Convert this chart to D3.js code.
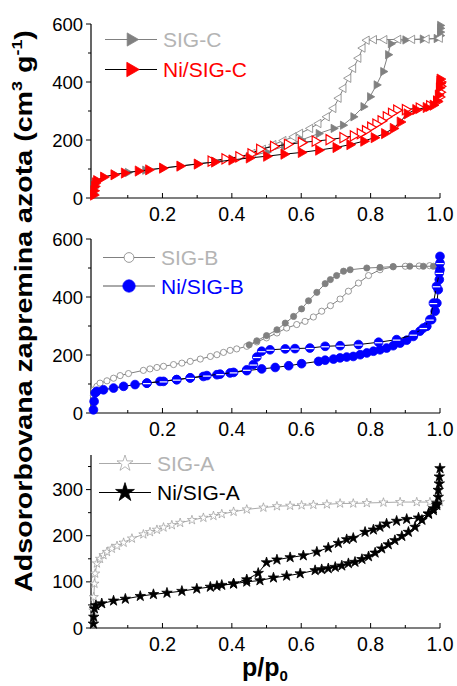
<!DOCTYPE html>
<html><head><meta charset="utf-8">
<script src="https://cdn.jsdelivr.net/npm/d3@7"></script>
<style>body{margin:0;background:#fff}svg{display:block}text{font-family:Arial,"Liberation Sans",sans-serif}</style>
</head><body>
<svg id="c" width="457" height="686"></svg>
<script>
// ---------- DATA ----------
const xTickLabels = [0.2, 0.4, 0.6, 0.8, 1.0];
const xMinorTicks = [0.1, 0.3, 0.5, 0.7, 0.9];
const yTicksCB = [0, 200, 400, 600];
const yMinorCB = [100, 300, 500];
const yTicksA = [0, 100, 200, 300];
const yMinorA = [50, 150, 250, 350];

// SIG-C (gray triangles)
const sigC_ads = [[0.001,15],[0.003,35],[0.005,48],[0.01,60],[0.03,72],[0.06,81],[0.1,88],[0.15,96],[0.2,103],[0.25,110],[0.3,118],[0.35,126],[0.4,134],[0.45,143],[0.5,158],[0.55,178],[0.6,200],[0.65,222],[0.693,240],[0.72,251],[0.75,280],[0.779,315],[0.798,349],[0.817,390],[0.836,436],[0.85,494],[0.858,532],[0.9,545],[0.95,548],[0.99,550],[1.0,560],[1.0,572],[1.0,585],[1.0,595]];
const sigC_des = [[1.0,551],[0.962,548],[0.92,547],[0.88,547],[0.84,546],[0.81,546],[0.789,544],[0.777,517],[0.765,482],[0.75,447],[0.736,413],[0.722,378],[0.708,344],[0.693,309],[0.674,280],[0.65,257],[0.626,240],[0.597,223],[0.578,211],[0.549,198],[0.52,184],[0.49,168],[0.46,154]];
// Ni/SIG-C (red triangles)
const niC_ads = [[0.001,10],[0.002,25],[0.004,40],[0.006,52],[0.01,60],[0.03,72],[0.06,80],[0.09,86],[0.13,93],[0.16,97],[0.2,103],[0.25,110],[0.3,117],[0.35,124],[0.4,131],[0.45,138],[0.5,144],[0.55,151],[0.6,157],[0.65,165],[0.7,174],[0.74,184],[0.78,196],[0.81,208],[0.84,222],[0.865,240],[0.885,262],[0.905,290],[0.93,305],[0.96,312],[0.98,320],[0.99,335],[0.995,355],[0.998,380],[1.0,395],[1.0,410]];
const niC_des = [[1.0,400],[1.0,385],[0.999,365],[0.997,348],[0.99,332],[0.97,318],[0.94,310],[0.9,305],[0.875,303],[0.86,292],[0.845,280],[0.83,266],[0.815,255],[0.8,244],[0.785,232],[0.77,222],[0.75,214],[0.72,208],[0.68,201],[0.64,196],[0.6,191],[0.56,185],[0.52,178],[0.48,168],[0.455,152],[0.42,142],[0.38,135],[0.34,127]];

// SIG-B (gray circles)
const sigB_ads = [[0.001,60],[0.003,80],[0.011,92],[0.02,103],[0.04,111],[0.059,120],[0.078,129],[0.102,136],[0.145,147],[0.164,152],[0.184,157],[0.203,161],[0.232,167],[0.256,172],[0.28,178],[0.309,186],[0.338,195],[0.357,201],[0.376,209],[0.395,216],[0.414,221],[0.443,230],[0.472,245],[0.5,259],[0.53,276],[0.558,293],[0.587,305],[0.611,316],[0.635,331],[0.659,351],[0.684,370],[0.712,393],[0.736,420],[0.765,448],[0.794,474],[0.827,494],[0.865,504],[0.9,506],[0.94,507],[0.97,508],[1.0,510]];
const sigB_des = [[1.0,506],[0.981,506],[0.952,506],[0.913,506],[0.865,505],[0.827,502],[0.789,500],[0.741,494],[0.722,489],[0.702,474],[0.684,460],[0.669,446],[0.645,416],[0.621,387],[0.601,359],[0.578,333],[0.554,310],[0.53,287],[0.5,267],[0.472,249],[0.45,235]];
// Ni/SIG-B (blue circles)
const niB_ads = [[0.001,11],[0.003,40],[0.006,69],[0.011,75],[0.03,80],[0.059,86],[0.088,92],[0.121,98],[0.155,103],[0.193,109],[0.241,115],[0.28,121],[0.318,126],[0.357,132],[0.395,138],[0.443,146],[0.486,152],[0.525,157],[0.564,163],[0.601,170],[0.65,178],[0.669,182],[0.693,186],[0.712,190],[0.731,193],[0.75,195],[0.77,201],[0.789,207],[0.808,213],[0.827,218],[0.846,224],[0.865,232],[0.885,241],[0.904,251],[0.923,264],[0.942,282],[0.962,299],[0.976,322],[0.986,351],[0.991,379],[0.995,425],[0.998,460],[1.0,494],[1.0,540]];
const niB_des = [[1.0,517],[0.998,483],[0.99,437],[0.981,379],[0.971,322],[0.952,293],[0.923,270],[0.875,253],[0.823,244],[0.765,236],[0.712,232],[0.669,230],[0.625,224],[0.582,222],[0.554,221],[0.51,218],[0.486,213],[0.472,193],[0.462,167],[0.443,149],[0.405,140],[0.366,134],[0.328,129],[0.28,121],[0.241,115],[0.203,109],[0.155,103]];

// SIG-A (light gray open stars)
const sigA = [[0.001,9],[0.001,38],[0.002,67],[0.004,96],[0.006,118],[0.011,140],[0.02,150],[0.03,158],[0.04,165],[0.054,172],[0.069,178],[0.088,185],[0.112,194],[0.145,203],[0.164,208],[0.184,213],[0.203,218],[0.227,223],[0.251,228],[0.285,234],[0.318,239],[0.347,243],[0.371,247],[0.405,252],[0.443,257],[0.491,261],[0.53,264],[0.568,265],[0.601,266],[0.635,267],[0.674,268],[0.712,270],[0.75,270],[0.789,271],[0.837,272],[0.885,273],[0.933,273],[0.971,273],[1.0,273]];
// Ni/SIG-A (black stars)
const niA_ads = [[0.001,9],[0.002,24],[0.004,42],[0.008,49],[0.025,53],[0.059,59],[0.093,63],[0.136,69],[0.174,73],[0.213,76],[0.256,80],[0.299,85],[0.338,89],[0.371,93],[0.405,96],[0.443,100],[0.481,103],[0.52,109],[0.558,113],[0.597,118],[0.64,125],[0.659,127],[0.678,129],[0.698,132],[0.717,135],[0.736,140],[0.755,143],[0.775,149],[0.794,155],[0.813,163],[0.832,172],[0.851,181],[0.87,190],[0.89,199],[0.909,208],[0.928,219],[0.948,234],[0.967,248],[0.981,259],[0.991,266],[0.995,284],[0.998,313],[1.0,346]];
const niA_des = [[0.998,328],[0.995,299],[0.991,270],[0.981,255],[0.967,247],[0.938,239],[0.904,236],[0.875,232],[0.846,226],[0.827,219],[0.808,213],[0.784,208],[0.75,195],[0.731,192],[0.707,184],[0.678,174],[0.645,165],[0.606,157],[0.568,153],[0.53,148],[0.5,142],[0.476,119],[0.443,105],[0.405,96],[0.357,91]];

// ---------- DRAW ----------
const svg = d3.select("#c");
const X0 = 91, X1 = 440;
const x = d3.scaleLinear().domain([-0.006, 1]).range([X0, X1]);

const panels = [
  {top:24, bottom:198, ymax:600, ticks:yTicksCB, minor:yMinorCB},
  {top:239, bottom:413, ymax:600, ticks:yTicksCB, minor:yMinorCB},
  {top:455, bottom:628, ymax:375, ticks:yTicksA, minor:yMinorA}
];

function drawSeries(g, y, data, o){
  const line = d3.line().x(d => x(d[0])).y(d => y(d[1]));
  g.append("path").attr("d", line(data)).attr("fill","none")
    .attr("stroke", o.line).attr("stroke-width", o.lw || 1);
  const s = d3.symbol().type(o.type).size(o.size);
  const m = g.append("g").selectAll("g").data(data).join("g")
    .attr("transform", d => `translate(${x(d[0])},${y(d[1])}) rotate(${o.rot||0})`);
  m.append("path").attr("d", s()).attr("fill", o.fill).attr("stroke", o.stroke)
    .attr("stroke-width", o.sw || 0.8);
  if (o.stripe) {
    m.append("line").attr("x1",-3.8).attr("x2",3.8).attr("y1",0.5).attr("y2",0.5)
      .attr("stroke","#fff").attr("stroke-width",1.2);
  }
}
function legendRow(g, x1, x2, yy, o, label, color){
  g.append("line").attr("x1",x1).attr("x2",x2).attr("y1",yy).attr("y2",yy)
    .attr("stroke",o.line).attr("stroke-width",1);
  g.append("path").attr("d", d3.symbol().type(o.type).size(o.lsize)())
    .attr("transform",`translate(${(x1+x2)/2},${yy}) rotate(${o.rot||0})`)
    .attr("fill",o.fill).attr("stroke",o.stroke).attr("stroke-width",o.sw||0.8);
  g.append("text").attr("x",x2+6).attr("y",yy+7.5).attr("font-size",21)
    .attr("fill",color).text(label);
}

const ys = panels.map(p => d3.scaleLinear().domain([0,p.ymax]).range([p.bottom,p.top]));

panels.forEach((p,i) => {
  const y = ys[i];
  const g = svg.append("g");
  const xa = g.append("g").attr("transform",`translate(0,${p.bottom})`);
  xa.append("line").attr("x1",X0).attr("x2",X1).attr("stroke","#000").attr("stroke-width",1.2);
  xa.selectAll(".mj").data(xTickLabels).join("line").attr("class","mj").attr("x1",d=>x(d)).attr("x2",d=>x(d))
    .attr("y1",0).attr("y2",-5).attr("stroke","#000");
  xa.selectAll(".mn").data(xMinorTicks).join("line").attr("class","mn").attr("x1",d=>x(d)).attr("x2",d=>x(d))
    .attr("y1",0).attr("y2",-3).attr("stroke","#000");
  xa.selectAll("text").data(xTickLabels).join("text").attr("x",d=>x(d)).attr("y",22.5)
    .attr("text-anchor","middle").attr("font-size",19.5).text(d=>d3.format(".1f")(d));
  const ya = g.append("g").attr("transform",`translate(${X0},0)`);
  ya.append("line").attr("y1",y(0)).attr("y2",p.top).attr("stroke","#000").attr("stroke-width",1.2);
  ya.selectAll(".mj").data(p.ticks).join("line").attr("class","mj").attr("y1",d=>y(d)).attr("y2",d=>y(d))
    .attr("x1",0).attr("x2",-5).attr("stroke","#000");
  ya.selectAll(".mn").data(p.minor).join("line").attr("class","mn").attr("y1",d=>y(d)).attr("y2",d=>y(d))
    .attr("x1",0).attr("x2",-3).attr("stroke","#000");
  ya.selectAll("text").data(p.ticks).join("text").attr("x",-8).attr("y",d=>y(d)+6.5)
    .attr("text-anchor","end").attr("font-size",18.5).text(d=>d);
});

const stSigCa = {type:d3.symbolTriangle, size:30, rot:90, fill:"#808080", stroke:"#808080", line:"#808080", lsize:75};
const stSigCd = {type:d3.symbolTriangle, size:30, rot:-90, fill:"#fff", stroke:"#808080", line:"#808080"};
const stNiCa = {type:d3.symbolTriangle, size:45, rot:90, fill:"#ff0000", stroke:"#ff0000", line:"#000", lsize:90};
const stNiCd = {type:d3.symbolTriangle, size:45, rot:90, fill:"#fff", stroke:"#ff0000", sw:1.2, line:"#000"};
const stSigBa = {type:d3.symbolCircle, size:30, fill:"#fff", stroke:"#808080", line:"#808080", lsize:75};
const stSigBd = {type:d3.symbolCircle, size:30, fill:"#808080", stroke:"#808080", line:"#808080"};
const stNiBa = {type:d3.symbolCircle, size:60, fill:"#0000ff", stroke:"#0000ff", line:"#000", lsize:120};
const stNiBd = {type:d3.symbolCircle, size:60, fill:"#0000ff", stroke:"#0000ff", line:"#000", stripe:true};
const stSigA = {type:d3.symbolStar, size:26, fill:"#fff", stroke:"#9a9a9a", line:"#aaaaaa", sw:0.7, lsize:80};
const stNiA = {type:d3.symbolStar, size:34, fill:"#000", stroke:"#000", line:"#000", lsize:110};

const gTop = svg.append("g");
drawSeries(gTop, ys[0], sigC_ads, stSigCa);
drawSeries(gTop, ys[0], sigC_des, stSigCd);
drawSeries(gTop, ys[0], niC_des, stNiCd);
drawSeries(gTop, ys[0], niC_ads, stNiCa);

const gMid = svg.append("g");
drawSeries(gMid, ys[1], sigB_ads, stSigBa);
drawSeries(gMid, ys[1], sigB_des, stSigBd);
drawSeries(gMid, ys[1], niB_ads, stNiBa);
drawSeries(gMid, ys[1], niB_des, stNiBd);

const gBot = svg.append("g");
drawSeries(gBot, ys[2], sigA, stSigA);
drawSeries(gBot, ys[2], niA_ads, stNiA);
drawSeries(gBot, ys[2], niA_des, stNiA);

const lg = svg.append("g");
legendRow(lg, 105, 157, 39.5, stSigCa, "SIG-C", "#b4b4b4");
legendRow(lg, 105, 157, 69.5, stNiCa, "Ni/SIG-C", "#ff0000");
legendRow(lg, 103, 155, 257.5, stSigBa, "SIG-B", "#b4b4b4");
legendRow(lg, 103, 155, 286, Object.assign({}, stNiBa, {line:"#555"}), "Ni/SIG-B", "#0000ff");
legendRow(lg, 99, 151, 463.5, stSigA, "SIG-A", "#b4b4b4");
legendRow(lg, 99, 151, 492.5, stNiA, "Ni/SIG-A", "#000");

// axis titles
const ytG = svg.append("g").attr("transform","translate(32,311) rotate(-90)");
const yt = ytG.append("text").attr("text-anchor","middle").attr("font-size",24).attr("font-weight","bold");
yt.append("tspan").text("Adsororbovana zapremina azota (cm");
yt.append("tspan").attr("font-size",15).attr("dy",-10).text("3");
yt.append("tspan").attr("dy",10).text(" g");
yt.append("tspan").attr("font-size",15).attr("dy",-10).text("-1");
yt.append("tspan").attr("dy",10).text(")");
const L = yt.node().getComputedTextLength();
if (L > 0) yt.attr("transform", `scale(${562 / L},1)`);

const xt = svg.append("text").attr("x",265).attr("y",676).attr("text-anchor","middle")
  .attr("font-size",25).attr("font-weight","bold");
xt.append("tspan").text("p/p");
xt.append("tspan").attr("font-size",15).attr("dy",5).text("0");
</script>
</body></html>
